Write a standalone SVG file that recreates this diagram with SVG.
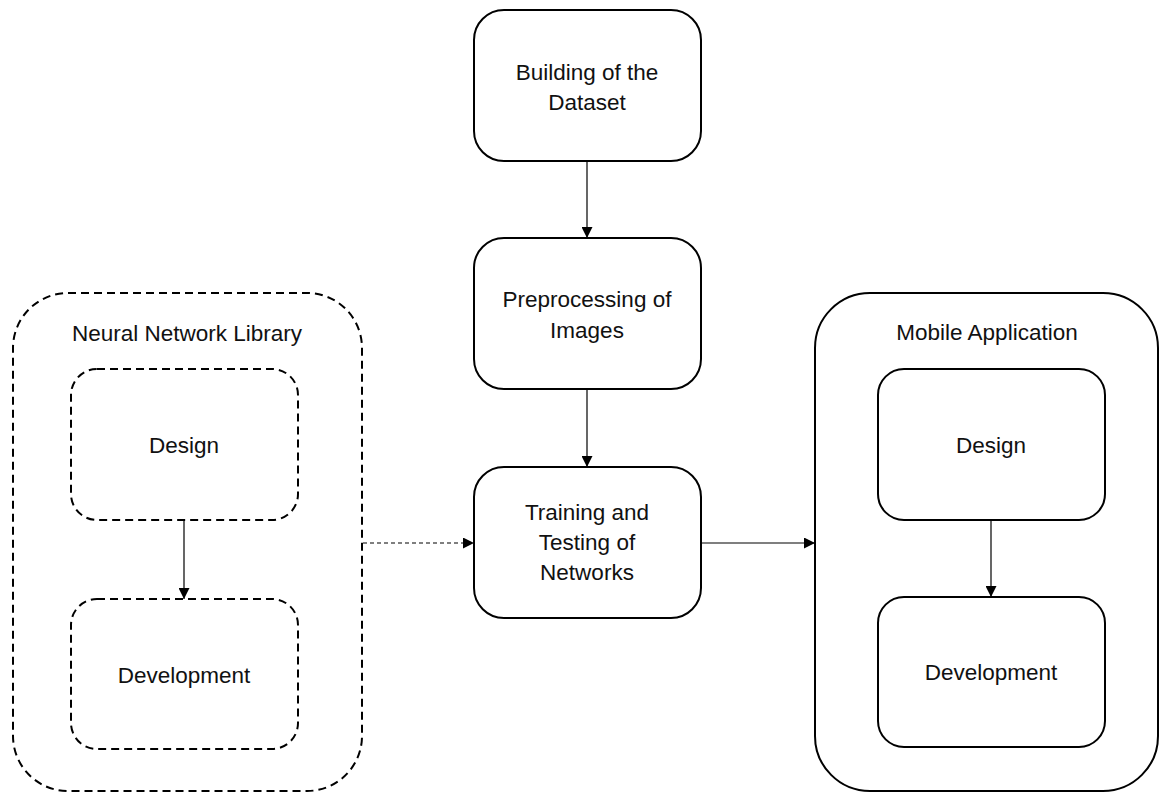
<svg xmlns="http://www.w3.org/2000/svg" width="1159" height="793" viewBox="0 0 1159 793">
  <style>
    .box { fill: #ffffff; stroke: #000000; stroke-width: 2; }
    .dash { fill: none; stroke: #000000; stroke-width: 2; stroke-dasharray: 8 5; }
    .solid { fill: none; stroke: #000000; stroke-width: 2; }
    .lbl { font-family: "Liberation Sans", Arial, sans-serif; font-size: 22.5px; fill: #111111; text-anchor: middle; }
    .edge { fill: none; stroke: #000000; stroke-width: 1.2; }
    .edge-dash { fill: none; stroke: #000000; stroke-width: 1.2; stroke-dasharray: 4 3; }
  </style>
  <defs>
    <marker id="arrow" viewBox="0 0 10 10" refX="10" refY="5" markerWidth="11" markerHeight="11" markerUnits="userSpaceOnUse" orient="auto">
      <path d="M0,0 L10,5 L0,10 Z" fill="#000000"/>
    </marker>
  </defs>
  <rect width="1159" height="793" fill="#ffffff"/>

  <!-- left container: neural network library -->
  <g id="nn-library">
    <rect class="dash" x="13" y="293" width="349" height="498" rx="55" ry="55"/>
    <text class="lbl" x="187" y="341">Neural Network Library</text>
  </g>
  <g id="nn-design">
    <rect class="dash" x="71" y="369" width="227" height="151" rx="26" ry="26"/>
    <text class="lbl" x="184" y="453">Design</text>
  </g>
  <g id="nn-development">
    <rect class="dash" x="71" y="599" width="227" height="150" rx="26" ry="26"/>
    <text class="lbl" x="184" y="683">Development</text>
  </g>

  <!-- central pipeline -->
  <g id="dataset">
    <rect class="solid" x="474" y="10" width="227" height="151" rx="30" ry="30"/>
    <text class="lbl" x="587" y="80">Building of the</text>
    <text class="lbl" x="587" y="110">Dataset</text>
  </g>
  <g id="preprocessing">
    <rect class="solid" x="474" y="238" width="227" height="151" rx="30" ry="30"/>
    <text class="lbl" x="587" y="307">Preprocessing of</text>
    <text class="lbl" x="587" y="338">Images</text>
  </g>
  <g id="training">
    <rect class="solid" x="474" y="467" width="227" height="151" rx="30" ry="30"/>
    <text class="lbl" x="587" y="520">Training and</text>
    <text class="lbl" x="587" y="550">Testing of</text>
    <text class="lbl" x="587" y="580">Networks</text>
  </g>

  <!-- right container: mobile application -->
  <g id="mobile-app">
    <rect class="solid" x="815" y="293" width="343" height="498" rx="55" ry="55"/>
    <text class="lbl" x="987" y="340">Mobile Application</text>
  </g>
  <g id="app-design">
    <rect class="solid" x="878" y="369" width="227" height="151" rx="26" ry="26"/>
    <text class="lbl" x="991" y="453">Design</text>
  </g>
  <g id="app-development">
    <rect class="solid" x="878" y="597" width="227" height="150" rx="26" ry="26"/>
    <text class="lbl" x="991" y="680">Development</text>
  </g>

  <!-- connectors -->
  <g id="connectors">
    <line class="edge" x1="587" y1="161" x2="587" y2="238" marker-end="url(#arrow)"/>
    <line class="edge" x1="587" y1="389" x2="587" y2="467" marker-end="url(#arrow)"/>
    <line class="edge-dash" x1="363" y1="543" x2="474" y2="543" marker-end="url(#arrow)"/>
    <line class="edge" x1="701" y1="543" x2="815" y2="543" marker-end="url(#arrow)"/>
    <line class="edge" x1="184" y1="520" x2="184" y2="599" marker-end="url(#arrow)"/>
    <line class="edge" x1="991" y1="520" x2="991" y2="597" marker-end="url(#arrow)"/>
  </g>
</svg>
